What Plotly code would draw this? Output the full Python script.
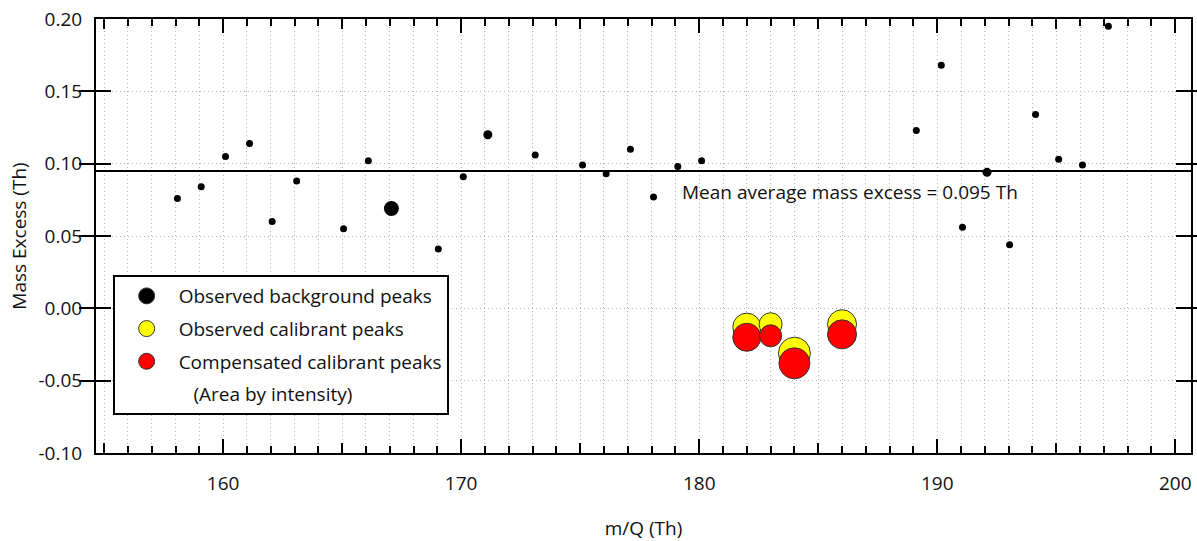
import plotly.graph_objects as go

# ---------------- data ----------------
# background peaks: measured m/Q and mass excess
bg_mq = [158.08, 159.08, 160.10, 161.11, 162.06, 163.09, 165.06, 166.10, 167.07,
         169.04, 170.09, 171.12, 173.11, 175.10, 176.09, 177.11, 178.08, 179.10,
         180.10, 189.12, 190.17, 191.06, 192.09, 193.04, 194.13, 195.10, 196.10,
         197.19]
bg_excess = [0.076, 0.084, 0.105, 0.114, 0.060, 0.088, 0.055, 0.102, 0.069,
             0.041, 0.091, 0.120, 0.106, 0.099, 0.093, 0.110, 0.077, 0.098,
             0.102, 0.123, 0.168, 0.056, 0.094, 0.044, 0.134, 0.103, 0.099,
             0.195]
bg_size = [7, 7, 7, 7, 7, 7, 7, 7, 15,
           7, 7, 9, 7, 7, 7, 7, 7, 7,
           7, 7, 7, 7, 9, 7, 7, 7, 7,
           7]

# calibrant peaks
cal_mq = [182, 183, 184, 186]
cal_obs_excess = [-0.013, -0.011, -0.031, -0.011]
cal_comp_excess = [-0.020, -0.019, -0.038, -0.018]
cal_obs_size = [28, 23, 32, 29]
cal_comp_size = [28, 22, 31, 29]

mean_excess = 0.095

legend_names = ["Observed background peaks", "Observed calibrant peaks",
                "Compensated calibrant peaks",
                "\u00a0\u00a0\u00a0(Area by intensity)"]
legend_colors = ["#000000", "#ffff00", "#ff0000", "rgba(0,0,0,0)"]

y_tick_vals = [-0.10, -0.05, 0.00, 0.05, 0.10, 0.15, 0.20]
y_tick_text = ["-0.10", "-0.05", "0.00", "0.05", "0.10", "0.15", "0.20"]

x_range = [154.66, 200.66]
y_range = [-0.10, 0.20]

FONT = "Open Sans"
FS = 19
TXT = "#111111"
GRID = "#b4b4b4"
GDASH = "1px,3px"
EDGE = "#333333"

fig = go.Figure()

fig.add_trace(go.Scatter(
    x=bg_mq, y=bg_excess, mode="markers", showlegend=False, hoverinfo="skip",
    marker=dict(size=bg_size, color="#000000", opacity=1, line=dict(width=0))))
fig.add_trace(go.Scatter(
    x=cal_mq, y=cal_obs_excess, mode="markers", showlegend=False, hoverinfo="skip",
    marker=dict(size=cal_obs_size, color="#ffff00", opacity=1,
                line=dict(color=EDGE, width=1))))
fig.add_trace(go.Scatter(
    x=cal_mq, y=cal_comp_excess, mode="markers", showlegend=False, hoverinfo="skip",
    marker=dict(size=cal_comp_size, color="#ff0000", opacity=1,
                line=dict(color=EDGE, width=1))))

# legend entries
for i, (name, color) in enumerate(zip(legend_names, legend_colors)):
    fig.add_trace(go.Scatter(
        x=[None], y=[None], mode="markers", name=name, legendgroup="g%d" % i,
        marker=dict(size=16, color=color, opacity=1,
                    line=dict(color=EDGE if i < 3 else "rgba(0,0,0,0)",
                              width=1 if i < 3 else 0))))

# helper trace for the medium tick axis
fig.add_trace(go.Scatter(x=[None], y=[None], xaxis="x2", showlegend=False,
                         hoverinfo="skip"))

fig.add_hline(y=mean_excess, line=dict(color="black", width=2))

fig.add_annotation(x=179.19, y=0.0804, xref="x", yref="y",
                   text="Mean average mass excess = %.3f Th" % mean_excess,
                   showarrow=False, xanchor="left", yanchor="middle",
                   font=dict(family=FONT, size=FS, color=TXT))

fig.update_layout(
    width=1197, height=541,
    margin=dict(l=96, r=4, t=19, b=88),
    paper_bgcolor="white", plot_bgcolor="white",
    font=dict(family=FONT, size=FS, color=TXT),
    xaxis=dict(
        range=x_range, tickmode="linear", tick0=160, dtick=10,
        ticks="inside", ticklen=14, tickwidth=2, tickcolor="black",
        showline=True, linewidth=2, linecolor="black", mirror="allticks",
        showgrid=True, gridcolor=GRID, griddash=GDASH, gridwidth=1,
        zeroline=False,
        minor=dict(tick0=160, dtick=1, ticks="inside", ticklen=7, tickwidth=2,
                   tickcolor="black", showgrid=True, gridcolor=GRID,
                   griddash=GDASH, gridwidth=1),
        tickfont=dict(family=FONT, size=FS, color=TXT),
        ticklabelstandoff=12,
        title=dict(text="m/Q (Th)", font=dict(family=FONT, size=FS, color=TXT),
                   standoff=27),
    ),
    xaxis2=dict(
        overlaying="x", anchor="y", side="bottom", range=x_range,
        tickmode="linear", tick0=155, dtick=5, ticks="inside", ticklen=10,
        tickwidth=2, tickcolor="black", showticklabels=False, showgrid=False,
        zeroline=False, showline=False, mirror="ticks",
    ),
    yaxis=dict(
        range=y_range, tickmode="array", tickvals=y_tick_vals, ticktext=y_tick_text,
        ticks="inside", ticklen=15, tickwidth=2, tickcolor="black",
        showline=True, linewidth=2, linecolor="black", mirror="allticks",
        showgrid=True, gridcolor=GRID, griddash=GDASH, gridwidth=1,
        zeroline=False,
        tickfont=dict(family=FONT, size=FS, color=TXT),
        ticklabelstandoff=8,
        title=dict(text="Mass Excess (Th)", font=dict(family=FONT, size=FS, color=TXT),
                   standoff=7),
    ),
    legend=dict(
        x=0.0152, y=0.0875, xanchor="left", yanchor="bottom",
        bgcolor="white", bordercolor="black", borderwidth=2,
        itemwidth=54, tracegroupgap=5, traceorder="grouped",
        font=dict(family=FONT, size=FS, color=TXT),
        itemclick=False, itemdoubleclick=False,
    ),
    showlegend=True,
)

fig.write_html("out.html")
